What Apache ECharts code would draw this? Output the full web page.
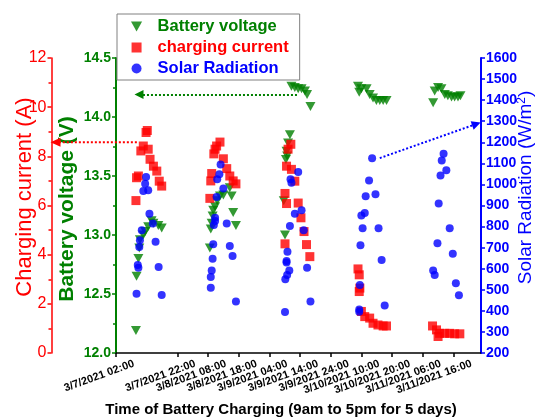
<!DOCTYPE html>
<html><head><meta charset="utf-8">
<script src="https://cdn.jsdelivr.net/npm/echarts@6/dist/echarts.min.js"></script>
<style>html,body{margin:0;padding:0;background:#fff}#c{width:535px;height:417px}</style>
</head><body><div id="c"></div>
<script>
// x values are hours after 3/7/2021 02:00
const xTickLabels = ['3/7/2021 02:00','3/7/2021 12:00','3/7/2021 22:00','3/8/2021 08:00','3/8/2021 18:00','3/9/2021 04:00','3/9/2021 14:00','3/9/2021 24:00','3/10/2021 10:00','3/10/2021 20:00','3/11/2021 06:00','3/11/2021 16:00'];

const voltageData = [
  [6.5,12.19],[6.7,12.65],[7.3,12.8],[7.6,12.89],[7.8,12.96],[8.9,13.0],[9.5,13.03],[10.5,13.07],[11.6,13.12],[12.2,13.1],[13.8,13.08],[14.9,13.06],
  [30.6,12.89],[30.9,13.05],[31.2,13.1],[31.5,13.16],[31.7,13.21],[32.3,13.24],[33.0,13.29],[33.9,13.33],[35.0,13.34],[37.1,13.4],[37.7,13.33],[38.2,13.19],[39.1,13.08],
  [54.7,13.29],[55.1,13.0],[55.4,13.64],[55.6,13.71],[55.8,13.67],[56.1,13.78],[56.7,13.85],[57.2,14.26],[58.3,14.25],[59.4,14.24],[60.5,14.24],[61.6,14.22],[62.3,14.19],[63.4,14.09],
  [78.9,14.26],[79.3,14.21],[80.0,14.24],[81.7,14.24],[82.7,14.19],[83.8,14.16],[84.9,14.14],[86.0,14.14],[87.1,14.14],[88.2,14.14],
  [103.4,14.12],[103.9,14.22],[105.0,14.25],[106.1,14.24],[107.2,14.19],[108.2,14.18],[109.4,14.17],[110.4,14.17],[111.5,14.17],[112.3,14.18]
];

const currentData = [
  [6.5,6.2],[6.7,7.13],[7.3,7.2],[8.1,8.22],[8.9,8.42],[9.8,8.97],[10.2,9.05],[10.5,8.29],[11.1,7.88],[12.2,7.6],[13.3,7.4],[14.1,6.99],[14.9,6.79],
  [30.6,6.29],[30.9,7.0],[31.2,7.3],[31.9,8.1],[32.3,8.29],[32.8,8.42],[33.9,8.58],[35.0,7.9],[36.1,7.5],[37.1,7.2],[38.2,7.0],[39.1,6.88],
  [55.1,6.49],[55.1,4.44],[55.6,7.6],[55.6,6.08],[56.1,8.29],[57.0,8.49],[57.2,7.47],[58.3,6.99],[59.4,6.1],[60.3,5.5],[61.3,4.94],[62.1,4.41],[63.2,3.92],
  [78.9,3.42],[79.3,3.18],[79.5,2.64],[79.3,2.5],[80.0,1.69],[81.1,1.48],[82.7,1.42],[83.8,1.21],[85.4,1.14],[87.1,1.1],[88.2,1.1],
  [103.2,1.1],[104.5,0.94],[105.0,0.67],[105.5,0.8],[107.2,0.8],[108.8,0.8],[110.4,0.78],[112.1,0.78]
];

const radiationData = [
  [6.7,481],[7.1,618],[7.3,605],[7.6,703],[7.8,735],[8.4,782],[8.9,969],[9.5,1003],[9.8,1035],[10.5,972],[10.9,861],[12.0,814],[12.9,728],[13.9,608],[14.9,475],
  [30.9,510],[30.9,561],[31.2,592],[31.5,647],[31.7,716],[31.9,808],[32.3,826],[32.3,842],[32.8,940],[33.0,1024],[33.7,1048],[34.1,1095],[35.0,981],[36.1,814],[37.1,708],[38.0,660],[39.1,445],
  [55.1,394],[55.2,550],[55.8,570],[55.6,629],[55.6,637],[55.9,681],[56.5,592],[56.7,803],[56.9,1024],[57.2,1008],[58.3,861],[59.4,1059],[60.5,877],[61.2,782],[62.3,605],[63.4,445],
  [79.3,396],[79.3,407],[79.5,523],[79.7,711],[80.0,852],[80.4,792],[81.1,864],[81.4,944],[82.5,1019],[83.5,1124],[84.6,953],[85.6,792],[86.6,641],[87.6,426],
  [103.4,592],[103.9,570],[104.8,721],[105.2,909],[105.8,1042],[106.2,1114],[106.8,1146],[107.7,1067],[108.8,792],[109.8,671],[110.8,531],[111.8,474]
];

// annotation arrows (data coordinates)
const greenArrow = {from:[59, 14.19], to:[7.5, 14.19]};
const blueArrow = {from:[86, 1125], to:[117.5, 1287]};
const redArrow = {from:[6.8, 8.57]};

const FONT = '"Liberation Sans", Arial, sans-serif';
const GREEN = '#008000', RED = '#ff0000', BLUE = '#0000ff';
const GRID_LEFT = 116, RED_OFFSET = 64.5;
const SQUARE = 'path://M0,0L10,0L10,10L0,10Z';
const TRI_DOWN = 'path://M0,0L10,0L5,9Z';

const chart = echarts.init(document.getElementById('c'), null, {renderer:'canvas'});

const option = {
  animation:false,
  textStyle:{fontFamily:FONT},
  grid:{left:GRID_LEFT, right:54, top:58, bottom:64, containLabel:false, outerBoundsMode:'none'},
  legend:{
    orient:'vertical', left:117, top:14, padding:[4,11,3,14], itemGap:4, itemWidth:32, itemHeight:10,
    backgroundColor:'#fff', borderColor:'#808080', borderWidth:1, borderRadius:0,
    textStyle:{fontSize:16.5, fontWeight:'bold', fontFamily:FONT},
    data:[
      {name:'Battery voltage', textStyle:{color:GREEN}},
      {name:'charging current', icon:SQUARE, textStyle:{color:RED}},
      {name:'Solar Radiation', icon:'circle', textStyle:{color:BLUE}}
    ]
  },
  xAxis:{
    type:'value', min:0, max:119, interval:10,
    axisLine:{lineStyle:{color:'#000', width:1.5}},
    axisTick:{length:4, lineStyle:{color:'#000', width:1.5}},
    splitLine:{show:false},
    axisLabel:{
      rotate:20, fontSize:11, fontWeight:'bold', color:'#000', fontFamily:FONT,
      align:'right', verticalAlign:'top', margin:-39, padding:[47,0,0,0],
      showMinLabel:true, showMaxLabel:false, hideOverlap:false,
      formatter:function(v){ const i = Math.round(v/10); return (Math.abs(v - i*10) < 1e-6 && i < xTickLabels.length) ? xTickLabels[i] : ''; }
    },
    name:'Time of Battery Charging (9am to 5pm for 5 days)', nameLocation:'middle', nameGap:49, nameMoveOverlap:false,
    nameTextStyle:{fontSize:15, fontWeight:'bold', color:'#000', fontFamily:FONT, padding:[0,35,0,0]}
  },
  yAxis:[
    {
      type:'value', position:'left', min:12, max:14.5, interval:0.5,
      axisLine:{show:true, lineStyle:{color:GREEN, width:2}},
      axisTick:{show:true, length:4, lineStyle:{color:GREEN, width:1.5}},
      minorTick:{show:true, splitNumber:2, length:3, lineStyle:{color:GREEN, width:1.5}},
      splitLine:{show:false},
      axisLabel:{color:GREEN, fontSize:14, fontWeight:'bold', margin:5, fontFamily:FONT, formatter:function(v){return v.toFixed(1);}},
      name:'Battery voltage (V)', nameLocation:'middle', nameGap:38, nameRotate:90, nameMoveOverlap:false,
      nameTextStyle:{color:GREEN, fontSize:21, fontWeight:'bold', fontFamily:FONT, padding:[0,7,0,0]}
    },
    {
      type:'value', position:'left', offset:RED_OFFSET, min:0, max:12, interval:2,
      axisLine:{show:true, lineStyle:{color:RED, width:1.5}},
      axisTick:{show:true, length:4, lineStyle:{color:RED, width:1.5}},
      minorTick:{show:true, splitNumber:2, length:3, lineStyle:{color:RED, width:1.5}},
      splitLine:{show:false},
      axisLabel:{color:RED, fontSize:16, margin:5, fontFamily:FONT},
      name:'Charging current (A)', nameLocation:'middle', nameGap:16, nameRotate:90, nameMoveOverlap:false,
      nameTextStyle:{color:RED, fontSize:22, fontFamily:FONT, padding:[0,0,0,17]}
    },
    {
      type:'value', position:'right', min:200, max:1600, interval:100,
      axisLine:{show:true, lineStyle:{color:BLUE, width:2}},
      axisTick:{show:true, length:4, lineStyle:{color:BLUE, width:1.5}},
      splitLine:{show:false},
      axisLabel:{color:BLUE, fontSize:14, fontWeight:'bold', margin:5, fontFamily:FONT, formatter:function(v){return String(v);}},
      name:'Solar Radiation (W/m{sup|2})', nameLocation:'middle', nameGap:35, nameRotate:90, nameMoveOverlap:false,
      nameTextStyle:{color:BLUE, fontSize:19, fontFamily:FONT, padding:[0,0,0,36],
        rich:{sup:{fontSize:12, color:BLUE, verticalAlign:'top', padding:[0,0,8,0], fontFamily:FONT}}}
    }
  ],
  series:[
    {
      name:'Battery voltage', type:'scatter', yAxisIndex:0, data:voltageData,
      symbol:TRI_DOWN, symbolSize:[10,9], itemStyle:{color:GREEN},
      markLine:{
        silent:true, symbol:['none','triangle'], symbolSize:[9,9], label:{show:false},
        lineStyle:{color:GREEN, type:'dotted', width:2}, emphasis:{disabled:true}, animation:false,
        data:[[{coord:greenArrow.from},{coord:greenArrow.to}]]
      }
    },
    {
      name:'charging current', type:'scatter', yAxisIndex:1, data:currentData,
      symbol:SQUARE, symbolSize:9, itemStyle:{color:RED}
    },
    {
      name:'Solar Radiation', type:'scatter', yAxisIndex:2, data:radiationData,
      symbol:'circle', symbolSize:8, itemStyle:{color:BLUE},
      markLine:{
        silent:true, symbol:['none','triangle'], symbolSize:[9,9], label:{show:false},
        lineStyle:{color:BLUE, type:'dotted', width:2}, emphasis:{disabled:true}, animation:false,
        data:[[{coord:blueArrow.from},{coord:blueArrow.to}]]
      }
    }
  ]
};
chart.setOption(option);

// red arrow from current data cluster to the red axis (outside the plot area)
const p = chart.convertToPixel({xAxisIndex:0, yAxisIndex:1}, redArrow.from);
const axisX = GRID_LEFT - RED_OFFSET;
chart.setOption({
  graphic:[
    {type:'line', silent:true, z:50, shape:{x1:p[0], y1:p[1], x2:axisX+7, y2:p[1]},
      style:{stroke:RED, lineWidth:2, lineDash:[2,2]}},
    {type:'polygon', silent:true, z:50, shape:{points:[[axisX-1,p[1]],[axisX+9,p[1]-4.5],[axisX+9,p[1]+4.5]]},
      style:{fill:RED}}
  ]
});
</script></body></html>
